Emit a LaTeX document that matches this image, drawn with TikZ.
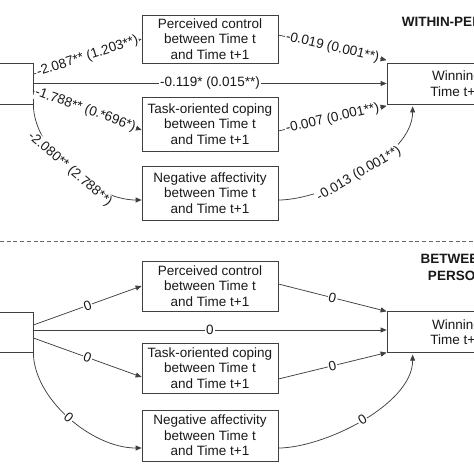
\documentclass[tikz,border=0pt]{standalone}
\usepackage{fontspec}
\setmainfont{Liberation Sans}
\usetikzlibrary{arrows.meta}
\newcommand{\boxfont}{\fontsize{13.5}{15.5}\selectfont}
\newcommand{\titlefont}{\bfseries\fontsize{13.5}{16.5}\selectfont}

\begin{document}
\begin{tikzpicture}[x=1pt,y=-1pt,line width=0.75pt,
	varbox/.style={draw=black!75, fill=white, text=black!90, align=center, inner sep=0pt, font=\boxfont},
	link/.style={draw=black!75, -{Triangle[length=6pt,width=5pt]}},
	coef/.style={fill=white, text=black!90, inner sep=1pt, sloped, font=\boxfont},
	title/.style={text=black!90, align=center, font=\titlefont}]
	\useasboundingbox (0,0) rectangle (474,474);
	\clip (0,0) rectangle (474,474);

	\node[varbox, minimum width=200pt, minimum height=41pt] (winL1) at (-67,83.5) {};
	\node[varbox, minimum width=136pt, minimum height=48pt] (pcW) at (210,39) {Perceived control\\between Time t\\and Time t+1};
	\node[varbox, minimum width=136pt, minimum height=54pt] (toW) at (210,124) {Task-oriented coping\\between Time t\\and Time t+1};
	\node[varbox, minimum width=136pt, minimum height=54pt] (naW) at (210,193) {Negative affectivity\\between Time t\\and Time t+1};
	\node[varbox, minimum width=139pt, minimum height=41pt] (winR1) at (456.5,83.5) {Winning\\Time t+1};
	\node[title] (wpT) at (456.5,22) {WITHIN-PERSON};

	\draw[link] ([yshift=-11.5pt]winL1.north east) -- node[coef] {-2.087** (1.203**)} (pcW.west);
	\draw[link] (winL1.east) -- node[coef] {-0.119* (0.015**)} (winR1.west);
	\draw[link] ([yshift=-7.5pt]winL1.east) -- node[coef, pos=0.48] {-1.788** (0.*696*)} ([yshift=-6pt]toW.west);
	\draw[link] (winL1.south east) .. controls +(0,46) and +(-47,0) .. node[coef] {-2.080** (2.788**)} ([yshift=-7pt]naW.west);
	\draw[link] ([yshift=4pt]pcW.east) -- node[coef] {-0.019 (0.001**)} ([yshift=2.5pt]winR1.north west);
	\draw[link] ([yshift=-7pt]toW.east) -- node[coef] {-0.007 (0.001**)} ([yshift=-1.5pt]winR1.south west);
	\draw[link] ([yshift=-7pt]naW.east) .. controls +(45,0) and +(0,50) .. node[coef, pos=0.48] {-0.013 (0.001**)} ([shift={(26pt,-2pt)}]winR1.south west);

	\coordinate (sepL) at (0,241);
	\coordinate (sepR) at (474,241);
	\draw[black!60, line width=0.7pt, dash pattern=on 4pt off 2.7pt] (sepL) -- (sepR);

	\node[varbox, minimum width=200pt, minimum height=40pt] (winL2) at (-67,332) {};
	\node[varbox, minimum width=136pt, minimum height=50pt] (pcB) at (210,286) {Perceived control\\between Time t\\and Time t+1};
	\node[varbox, minimum width=136pt, minimum height=50pt] (toB) at (210,368) {Task-oriented coping\\between Time t\\and Time t+1};
	\node[varbox, minimum width=136pt, minimum height=51pt] (naB) at (210,435.5) {Negative affectivity\\between Time t\\and Time t+1};
	\node[varbox, minimum width=139pt, minimum height=40.5pt] (winR2) at (456.5,332) {Winning\\Time t+1};
	\node[title] (bpT) at (456.5,267.5) {BETWEEN-\\PERSON};

	\draw[link] ([yshift=7pt]winL2.east) -- node[coef] {0} (pcB.west);
	\draw[link] ([yshift=2pt]winL2.east) -- node[coef] {0} ([yshift=2pt]winR2.west);
	\draw[link] ([yshift=-6pt]winL2.east) -- node[coef] {0} ([yshift=-9pt]toB.west);
	\draw[link] (winL2.south east) .. controls +(0,46) and +(-50,0) .. node[coef] {0} ([yshift=-12.5pt]naB.west);
	\draw[link] ([yshift=2pt]pcB.east) -- node[coef] {0} (winR2.north west);
	\draw[link] ([yshift=-11pt]toB.east) -- node[coef] {0} (winR2.south west);
	\draw[link] ([yshift=-12.5pt]naB.east) .. controls +(45,0) and +(0,50) .. node[coef] {0} ([shift={(26pt,-2pt)}]winR2.south west);
\end{tikzpicture}
\end{document}
